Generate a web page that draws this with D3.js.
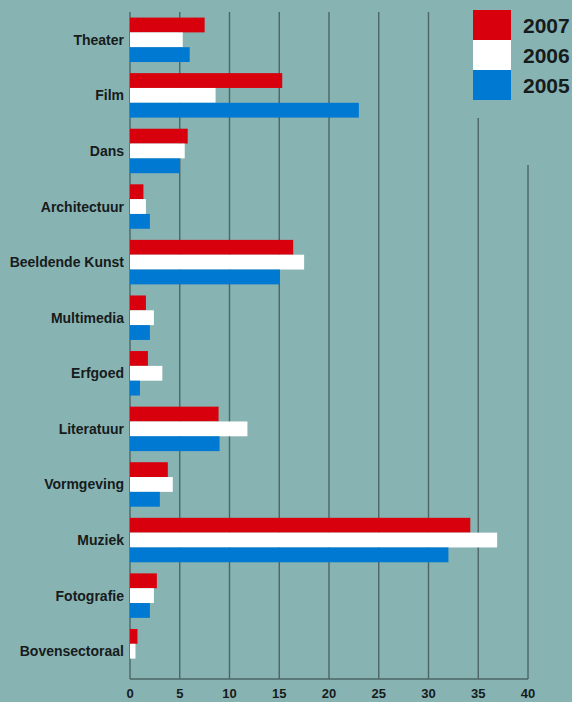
<!DOCTYPE html>
<html>
<head>
<meta charset="utf-8">
<script src="https://cdn.jsdelivr.net/npm/d3@7"></script>
<style>
  body { margin: 0; background: #88b3b3; }
  svg { display: block; }
  text { font-family: "Liberation Sans", Arial, sans-serif; font-weight: bold; fill: #161b1b; }
</style>
</head>
<body>
<svg id="svg" width="572" height="702"></svg>
<script>
const categories = ["Theater", "Film", "Dans", "Architectuur", "Beeldende Kunst", "Multimedia",
  "Erfgoed", "Literatuur", "Vormgeving", "Muziek", "Fotografie", "Bovensectoraal"];
const years = ["2007", "2006", "2005"];
const values2007 = [7.5, 15.3, 5.8, 1.35, 16.4, 1.6, 1.8, 8.9, 3.8, 34.2, 2.7, 0.75];
const values2006 = [5.3, 8.6, 5.5, 1.6, 17.5, 2.4, 3.25, 11.8, 4.3, 36.9, 2.4, 0.55];
const values2005 = [6.0, 23.0, 5.0, 2.0, 15.0, 2.0, 1.0, 9.0, 3.0, 32.0, 2.0, 0];
const xTicks = [0, 5, 10, 15, 20, 25, 30, 35, 40];
const colors = ["#d8000c", "#ffffff", "#0079d2"];

const series = [values2007, values2006, values2005];
const rows = categories.map((c, i) => ({ cat: c, vals: series.map(s => s[i]) }));

const svg = d3.select("#svg");

const x = d3.scaleLinear().domain([0, 40]).range([130, 528]);
const y = d3.scaleBand().domain(categories).range([12, 679]).paddingInner(0.2).paddingOuter(0.1);
const ySub = d3.scaleBand().domain(years).range([0, y.bandwidth()]);

// grid lines (some start lower, behind the legend)
const gridTop = v => (v === 35 ? 118 : v === 40 ? 165 : 12);
svg.append("g")
  .selectAll("line")
  .data(xTicks)
  .join("line")
  .attr("x1", d => x(d)).attr("x2", d => x(d))
  .attr("y1", d => gridTop(d)).attr("y2", 679)
  .attr("stroke", "#4d6565")
  .attr("stroke-width", 1.4);

// bottom axis line
svg.append("line")
  .attr("x1", x(0)).attr("x2", x(40))
  .attr("y1", 679).attr("y2", 679)
  .attr("stroke", "#4d6565")
  .attr("stroke-width", 1.4);

// bars
const groups = svg.append("g")
  .selectAll("g")
  .data(rows)
  .join("g")
  .attr("transform", d => `translate(0,${y(d.cat)})`);

groups.selectAll("rect")
  .data(d => d.vals.map((v, k) => ({ year: years[k], v, k })))
  .join("rect")
  .attr("x", x(0))
  .attr("y", d => ySub(d.year))
  .attr("width", d => x(d.v) - x(0))
  .attr("height", ySub.bandwidth())
  .attr("fill", d => colors[d.k]);

// category labels
svg.append("g")
  .selectAll("text")
  .data(categories)
  .join("text")
  .attr("x", 124)
  .attr("y", d => y(d) + y.bandwidth() / 2)
  .attr("dy", "0.36em")
  .attr("text-anchor", "end")
  .style("font-size", "14px")
  .text(d => d);

// x tick labels
svg.append("g")
  .selectAll("text")
  .data(xTicks)
  .join("text")
  .attr("x", d => x(d))
  .attr("y", 693)
  .attr("dy", "0.36em")
  .attr("text-anchor", "middle")
  .style("font-size", "13px")
  .text(d => d);

// legend
const legend = svg.append("g").attr("transform", "translate(473,10)");
legend.selectAll("rect")
  .data(years)
  .join("rect")
  .attr("x", 0)
  .attr("y", (d, i) => i * 30)
  .attr("width", 38)
  .attr("height", 30)
  .attr("fill", (d, i) => colors[i]);
legend.selectAll("text")
  .data(years)
  .join("text")
  .attr("x", 50)
  .attr("y", (d, i) => i * 30 + 15)
  .attr("dy", "0.36em")
  .style("font-size", "21px")
  .text(d => d);
</script>
</body>
</html>
